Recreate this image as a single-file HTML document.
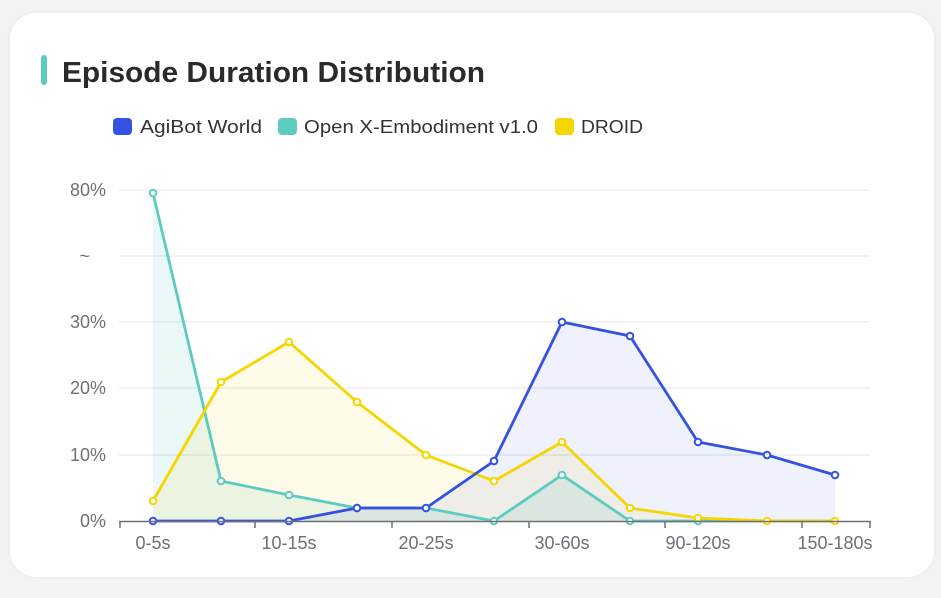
<!DOCTYPE html><html><head><style>
body{margin:0;width:941px;height:598px;background:#f2f3f4;font-family:"Liberation Sans",sans-serif;overflow:hidden}
.card{position:absolute;left:10px;top:13px;width:924px;height:564px;background:#fff;border-radius:26px;box-shadow:0 0 4px rgba(0,0,0,.06)}
</style></head><body><div class="card"></div>
<svg width="941" height="598" style="position:absolute;left:0;top:0" font-family="Liberation Sans, sans-serif">
<rect x="41" y="55" width="6" height="30" rx="3" fill="#5ecbc1"/>
<text x="62" y="82" font-size="29" font-weight="bold" fill="#2a2a2e" textLength="423" lengthAdjust="spacingAndGlyphs">Episode Duration Distribution</text>
<g font-size="18" fill="#333">
<rect x="113" y="118" width="19" height="17" rx="4" fill="#3452e1"/><text x="140" y="133" textLength="122" lengthAdjust="spacingAndGlyphs">AgiBot World</text>
<rect x="278" y="118" width="19" height="17" rx="4" fill="#5ecbc1"/><text x="304" y="133" textLength="234" lengthAdjust="spacingAndGlyphs">Open X-Embodiment v1.0</text>
<rect x="555" y="118" width="19" height="17" rx="4" fill="#f6d600"/><text x="581" y="133" textLength="62" lengthAdjust="spacingAndGlyphs">DROID</text>
</g>
<g stroke="#e6e9f0" stroke-width="1.2">
<line x1="119" x2="870" y1="190" y2="190"/><line x1="119" x2="870" y1="256" y2="256"/><line x1="119" x2="870" y1="322" y2="322"/><line x1="119" x2="870" y1="388" y2="388"/><line x1="119" x2="870" y1="455" y2="455"/></g>
<g font-size="18" fill="#6e7079" text-anchor="end">
<text x="106" y="196">80%</text><text x="90" y="262">~</text><text x="106" y="328">30%</text><text x="106" y="394">20%</text><text x="106" y="461">10%</text><text x="106" y="527">0%</text></g>
<polygon fill="#5ecbc1" fill-opacity=".13" points="153,521 153,193 221,481 289,495 357,508 426,508 494,521 562,475 630,521 698,521 767,521 835,521"/>
<polygon fill="#f6d600" fill-opacity=".09" points="153,521 153,501 221,382 289,342 357,402 426,455 494,481 562,442 630,508 698,518 767,521 835,521"/>
<polygon fill="#3452e1" fill-opacity=".08" points="153,521 221,521 289,521 357,508 426,508 494,461 562,322 630,336 698,442 767,455 835,475 835,521"/>
<g fill="none" stroke-width="2.8" stroke-linejoin="round">
<polyline stroke="#5ecbc1" points="153,193 221,481 289,495 357,508 426,508 494,521 562,475 630,521 698,521 767,521 835,521"/>
<polyline stroke="#f6d600" points="153,501 221,382 289,342 357,402 426,455 494,481 562,442 630,508 698,518 767,521 835,521"/>
<polyline stroke="#3452e1" points="153,521 221,521 289,521 357,508 426,508 494,461 562,322 630,336 698,442 767,455 835,475"/>
</g>
<g fill="#fff" stroke-width="2">
<g stroke="#5ecbc1"><circle cx="153" cy="193" r="3.3"/><circle cx="221" cy="481" r="3.3"/><circle cx="289" cy="495" r="3.3"/><circle cx="357" cy="508" r="3.3"/><circle cx="426" cy="508" r="3.3"/><circle cx="494" cy="521" r="3.3"/><circle cx="562" cy="475" r="3.3"/><circle cx="630" cy="521" r="3.3"/><circle cx="698" cy="521" r="3.3"/></g>
<g stroke="#3452e1"><circle cx="153" cy="521" r="3.3"/><circle cx="221" cy="521" r="3.3"/><circle cx="289" cy="521" r="3.3"/><circle cx="357" cy="508" r="3.3"/><circle cx="426" cy="508" r="3.3"/><circle cx="494" cy="461" r="3.3"/><circle cx="562" cy="322" r="3.3"/><circle cx="630" cy="336" r="3.3"/><circle cx="698" cy="442" r="3.3"/><circle cx="767" cy="455" r="3.3"/><circle cx="835" cy="475" r="3.3"/></g>
<g stroke="#f6d600"><circle cx="153" cy="501" r="3.3"/><circle cx="221" cy="382" r="3.3"/><circle cx="289" cy="342" r="3.3"/><circle cx="357" cy="402" r="3.3"/><circle cx="426" cy="455" r="3.3"/><circle cx="494" cy="481" r="3.3"/><circle cx="562" cy="442" r="3.3"/><circle cx="630" cy="508" r="3.3"/><circle cx="698" cy="518" r="3.3"/><circle cx="767" cy="521" r="3.3"/><circle cx="835" cy="521" r="3.3"/></g>
</g>
<g stroke="#6e7079" stroke-width="1.5"><line x1="119" x2="871" y1="521.5" y2="521.5"/>
<line x1="120" x2="120" y1="521" y2="528"/><line x1="255" x2="255" y1="521" y2="528"/><line x1="392" x2="392" y1="521" y2="528"/><line x1="529" x2="529" y1="521" y2="528"/><line x1="665" x2="665" y1="521" y2="528"/><line x1="802" x2="802" y1="521" y2="528"/><line x1="870" x2="870" y1="521" y2="528"/></g>
<g font-size="18" fill="#6e7079" text-anchor="middle">
<text x="153" y="549">0-5s</text><text x="289" y="549">10-15s</text><text x="426" y="549">20-25s</text><text x="562" y="549">30-60s</text><text x="698" y="549">90-120s</text><text x="835" y="549">150-180s</text></g>
</svg></body></html>
